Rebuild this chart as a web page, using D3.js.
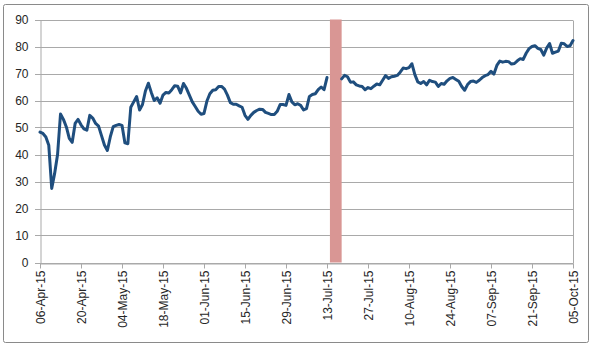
<!DOCTYPE html>
<html>
<head>
<meta charset="utf-8">
<script src="https://cdn.jsdelivr.net/npm/d3@7/dist/d3.min.js"></script>
<style>
  html, body { margin: 0; padding: 0; background: #fff; }
  svg { display: block; }
  text { font-family: "Liberation Sans", Arial, sans-serif; }
</style>
</head>
<body>
<div id="chart"></div>
<script>
// Daily index readings, starting Monday 06-Apr-2015; null marks days with no reading.
const startDate = "2015-04-06";
const dailyValues = [
  48.3, 47.8, 46.5, 43.4, 27.4, 33.0, 40.0, 55.0, 53.0, 50.2,
  46.0, 44.5, 51.5, 53.0, 51.0, 49.5, 49.0, 54.5, 53.5, 51.5,
  50.5, 47.0, 43.5, 41.5, 46.5, 50.3, 50.8, 51.1, 50.8, 44.3,
  44.0, 57.5, 59.5, 61.5, 56.5, 58.5, 63.5, 66.4, 63.0, 60.0,
  61.0, 59.0, 62.0, 63.0, 62.8, 64.0, 65.5, 65.3, 62.8, 66.3,
  64.5, 62.0, 59.5, 57.8, 56.0, 54.9, 55.2, 59.8, 62.5, 63.8,
  64.0, 65.2, 65.2, 64.2, 62.0, 59.2, 58.6, 58.6, 58.0, 57.5,
  54.5, 53.0, 54.5, 55.6, 56.3, 56.8, 56.7, 55.6, 55.2, 54.8,
  54.8, 56.0, 58.5, 58.5, 58.2, 62.2, 59.5, 58.4, 58.8, 58.2,
  56.5, 57.0, 61.5, 62.2, 62.5, 64.0, 65.0, 64.0, 68.5, null,
  null, null, null, 68.0, 69.3, 68.8, 66.8, 66.9, 65.8, 65.4,
  65.2, 64.0, 64.8, 64.4, 65.3, 66.1, 65.8, 67.5, 69.2, 68.2,
  68.8, 69.0, 69.3, 70.5, 72.0, 71.8, 72.2, 73.6, 69.6, 66.9,
  66.3, 67.0, 65.8, 67.5, 67.0, 66.8, 65.2, 66.3, 66.0, 67.3,
  68.2, 68.5, 67.8, 67.1, 65.2, 63.8, 65.9, 67.0, 67.2, 66.7,
  67.5, 68.5, 69.2, 69.6, 70.8, 69.8, 73.0, 74.6, 74.2, 74.5,
  74.4, 73.5, 73.7, 74.7, 75.5, 75.2, 77.5, 79.2, 80.0, 80.3,
  79.3, 78.9, 76.8, 79.4, 81.1, 77.5, 77.9, 78.3, 81.2, 81.0,
  80.0, 80.3, 82.2
];

// Highlighted period (shaded column)
const highlightStart = "2015-07-14";
const highlightEnd = "2015-07-18";

// Axis ticks
const xTickLabels = [
  "06-Apr-15", "20-Apr-15", "04-May-15", "18-May-15", "01-Jun-15", "15-Jun-15",
  "29-Jun-15", "13-Jul-15", "27-Jul-15", "10-Aug-15", "24-Aug-15", "07-Sep-15",
  "21-Sep-15", "05-Oct-15"
];
const yTicks = [0, 10, 20, 30, 40, 50, 60, 70, 80, 90];

const width = 599, height = 350;
const margin = { left: 40, right: 26, top: 19.5, bottom: 87.5 };

const parseISO = d3.utcParse("%Y-%m-%d");
const parseTick = d3.utcParse("%d-%b-%y");
const fmtTick = d3.utcFormat("%d-%b-%y");
const t0 = parseISO(startDate);

const series = dailyValues.map((v, i) => ({ date: d3.utcDay.offset(t0, i), value: v }));
const tickDates = xTickLabels.map(parseTick);

const svg = d3.select("#chart").append("svg")
  .attr("width", width).attr("height", height);

// outer chart frame
svg.append("rect")
  .attr("x", 3.5).attr("y", 4.5)
  .attr("width", 585).attr("height", 338)
  .attr("rx", 2)
  .attr("fill", "#fff").attr("stroke", "#8a8a8a").attr("stroke-width", 1);

const x = d3.scaleUtc()
  .domain([tickDates[0], tickDates[tickDates.length - 1]])
  .range([margin.left, width - margin.right]);
const y = d3.scaleLinear()
  .domain([0, 90])
  .range([height - margin.bottom, margin.top]);

const gridColor = "#a9a9a9";

// horizontal gridlines
svg.append("g")
  .selectAll("line")
  .data(yTicks)
  .join("line")
  .attr("x1", margin.left - 5).attr("x2", width - margin.right)
  .attr("y1", d => Math.round(y(d)) + 0.5).attr("y2", d => Math.round(y(d)) + 0.5)
  .attr("stroke", gridColor).attr("stroke-width", 1);

// right edge of the plot area
svg.append("line")
  .attr("x1", Math.round(x.range()[1]) + 0.5).attr("x2", Math.round(x.range()[1]) + 0.5)
  .attr("y1", Math.round(y(90)) + 0.5).attr("y2", Math.round(y(0)) + 0.5)
  .attr("stroke", gridColor);

// shaded period
svg.append("rect")
  .attr("x", x(parseISO(highlightStart)))
  .attr("width", x(parseISO(highlightEnd)) - x(parseISO(highlightStart)))
  .attr("y", y(90))
  .attr("height", y(0) - y(90))
  .attr("fill", "#d99694");

// y axis
const yAxis = svg.append("g")
  .attr("transform", `translate(${Math.round(margin.left) + 0.5},0)`)
  .call(d3.axisLeft(y).tickValues(yTicks).tickSize(0).tickPadding(12));
yAxis.select(".domain").attr("stroke", gridColor);
yAxis.selectAll("text")
  .attr("fill", "#262626").attr("font-size", "12px")
  .attr("font-family", "'Liberation Sans', Arial, sans-serif");

// x axis
const xAxis = svg.append("g")
  .attr("transform", `translate(0,${Math.round(y(0)) + 0.5})`)
  .call(d3.axisBottom(x).tickValues(tickDates).tickFormat(fmtTick).tickSize(5).tickSizeOuter(0));
xAxis.select(".domain").attr("stroke", gridColor);
xAxis.selectAll(".tick line").attr("stroke", gridColor);
xAxis.selectAll("text")
  .attr("fill", "#262626").attr("font-size", "12px")
  .attr("font-family", "'Liberation Sans', Arial, sans-serif")
  .attr("text-anchor", "end")
  .attr("transform", "rotate(-90)")
  .attr("x", -7).attr("y", 0).attr("dy", "0.35em");

// the series line
const line = d3.line()
  .defined(d => d.value !== null)
  .x(d => x(d.date))
  .y(d => y(d.value))
  .curve(d3.curveLinear);

svg.append("path")
  .datum(series)
  .attr("d", line)
  .attr("fill", "none")
  .attr("stroke", "#1f4e7e")
  .attr("stroke-width", 3)
  .attr("stroke-linejoin", "round")
  .attr("stroke-linecap", "round");
</script>
</body>
</html>
